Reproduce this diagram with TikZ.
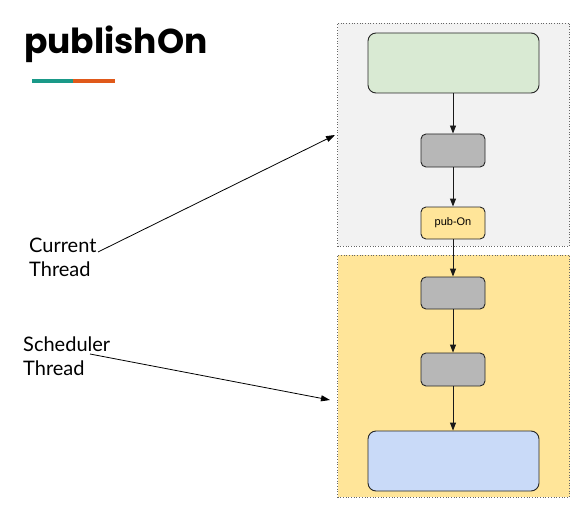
\documentclass[tikz,border=0pt]{standalone}
\usepackage{fontspec}
\setmainfont{Lato}
\newfontfamily\titlefont{Poppins}
\newfontfamily\boxfont{Liberation Sans}
\usetikzlibrary{arrows.meta}
\definecolor{framegray}{HTML}{F2F2F2}
\definecolor{frameyellow}{HTML}{FFE599}
\definecolor{greenfill}{HTML}{D9EAD3}
\definecolor{grayfill}{HTML}{B7B7B7}
\definecolor{bluefill}{HTML}{C9DAF8}
\definecolor{teal}{HTML}{1A9988}
\definecolor{orangebar}{HTML}{E0591A}
\tikzset{
  frame/.style={draw=black!60, dotted, line width=0.7pt, minimum width=232pt, inner sep=0pt},
  bigbox/.style={draw=black!85, line width=0.9pt, rounded corners=8pt, minimum width=171pt, minimum height=60pt, inner sep=0pt},
  smallbox/.style={draw=black!85, line width=0.9pt, rounded corners=5pt, minimum width=64pt, minimum height=32pt, inner sep=0pt, font=\boxfont\fontsize{11}{13}\selectfont},
  flow/.style={draw=black!90, line width=0.9pt, -{Triangle[length=8pt,width=6pt]}},
  label/.style={font=\fontsize{20}{24}\selectfont, align=left, anchor=north west, inner sep=0pt},
  pointer/.style={draw=black, line width=0.8pt, -{Triangle[length=9pt,width=6pt]}}
}
\begin{document}
\begin{tikzpicture}[x=1pt,y=-1pt]
\useasboundingbox (0,0) rectangle (580,505);
\node[anchor=base west, inner sep=0pt, font=\titlefont\bfseries\fontsize{34.5}{40}\selectfont] (title) at (24,54) {publishOn};
\fill[teal] (32,79.5) rectangle (73,83.5);
\fill[orangebar] (73,79.5) rectangle (115,83.5);

\node[frame, fill=framegray, minimum height=223pt] (cur) at (453.5,134.5) {};
\node[frame, fill=frameyellow, minimum height=242pt] (sched) at (453.5,376) {};

\node[bigbox, fill=greenfill] (src) at (453.5,63) {};
\node[smallbox, fill=grayfill, minimum height=33pt] (op1) at (453,150.5) {};
\node[smallbox, fill=frameyellow] (pub) at (453,223) {pub-On};
\node[smallbox, fill=grayfill] (op2) at (453,293) {};
\node[smallbox, fill=grayfill, minimum height=33pt] (op3) at (453,369.5) {};
\node[bigbox, fill=bluefill] (sink) at (453.5,461) {};

\draw[flow] (src.south -| op1) -- (op1.north);
\draw[flow] (op1) -- (pub);
\draw[flow] (pub) -- (op2);
\draw[flow] (op2) -- (op3);
\draw[flow] (op3.south) -- (sink.north -| op3);

\node[label] (curlabel) at (29,238) {Current\\Thread};
\node[label] (schedlabel) at (23,337) {Scheduler\\Thread};
\coordinate (curstart) at (98,252);
\coordinate (curend) at (335,135);
\coordinate (schedstart) at (90,354);
\coordinate (schedend) at (330,400);
\draw[pointer] (curstart) -- (curend);
\draw[pointer] (schedstart) -- (schedend);
\end{tikzpicture}
\end{document}
